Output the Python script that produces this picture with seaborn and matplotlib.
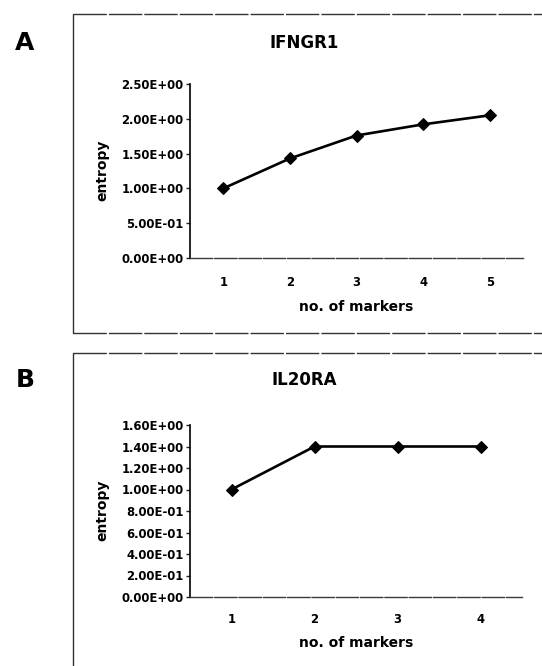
import matplotlib
matplotlib.use("Agg")
import matplotlib.pyplot as plt
from matplotlib.lines import Line2D
import seaborn as sns
import pandas as pd
import numpy as np

# ---- data ----
markers_a = [1, 2, 3, 4, 5]
entropy_a = [1.00, 1.43, 1.76, 1.92, 2.05]
yticks_a = [0.0, 0.5, 1.0, 1.5, 2.0, 2.5]
title_a = "IFNGR1"

markers_b = [1, 2, 3, 4]
entropy_b = [1.00, 1.40, 1.40, 1.40]
yticks_b = [0.0, 0.2, 0.4, 0.6, 0.8, 1.0, 1.2, 1.4, 1.6]
title_b = "IL20RA"

xlabel = "no. of markers"
ylabel = "entropy"

sns.set_style("white")
plt.rcParams["font.family"] = ["DejaVu Sans"]
plt.rcParams["font.weight"] = "bold"
plt.rcParams["text.color"] = "black"
plt.rcParams["axes.labelcolor"] = "black"
plt.rcParams["xtick.color"] = "black"
plt.rcParams["ytick.color"] = "black"

W, H = 542, 666
fig = plt.figure(figsize=(W / 100, H / 100), dpi=100)


def fx(px):
    return px / W


def fy(py):
    return 1 - py / H


def panel(rect_px, xs, ys, yticks, title, letter, title_y, xlab_y, ylab_x, tick_pad):
    l, t, r, b = rect_px
    ax = fig.add_axes([fx(l), fy(b), fx(r) - fx(l), fy(t) - fy(b)])
    df = pd.DataFrame({"markers": xs, "entropy": ys})
    sns.lineplot(data=df, x="markers", y="entropy", ax=ax, color="black",
                 linewidth=1.9, marker="D", markersize=6.5,
                 markeredgecolor="black", markerfacecolor="black")
    n = len(xs)
    ax.set_xlim(0.5, n + 0.5)
    ax.set_ylim(yticks[0], yticks[-1])
    ax.set_yticks(yticks)
    ax.set_yticklabels(["{:.2E}".format(v) for v in yticks],
                       fontsize=8.4, fontweight="bold")
    ax.set_xticks(xs)
    ax.set_xticklabels([str(v) for v in xs], fontsize=8.4, fontweight="bold")
    ax.set_xticks(np.arange(0.5, n + 1.0, 1.0), minor=True)
    ax.tick_params(axis="x", which="major", length=0, pad=tick_pad)
    ax.tick_params(axis="x", which="minor", length=3, width=1.0,
                   direction="out", color="#222222")
    ax.tick_params(axis="y", which="major", length=3, width=1.0,
                   direction="out", pad=1.5, left=True, color="#222222")
    for s in ["top", "right"]:
        ax.spines[s].set_visible(False)
    ax.spines["left"].set_color("black")
    ax.spines["left"].set_linewidth(1.2)
    ax.spines["bottom"].set_color("#3a3a3a")
    ax.spines["bottom"].set_linewidth(1.0)
    ax.spines["bottom"].set_linestyle((0, (16, 1.5)))
    ax.set_xlabel(xlabel, fontsize=10, fontweight="bold")
    ax.set_ylabel(ylabel, fontsize=10, fontweight="bold")
    ax.xaxis.set_label_coords(0.5, -(xlab_y - b) / (b - t))
    ax.xaxis.label.set_va("center")
    ax.yaxis.set_label_coords((ylab_x - l) / (r - l), 0.505)
    ax.yaxis.label.set_va("center")
    fig.text(fx(304), fy(title_y), title, ha="center", va="center",
             fontsize=12, fontweight="bold")
    fig.text(fx(25), fy(title_y), letter, ha="center", va="center",
             fontsize=18, fontweight="bold")
    return ax


panel((190, 84, 523, 258), markers_a, entropy_a, yticks_a, title_a, "A",
      43, 307, 102, 13)
panel((190, 425, 522, 597), markers_b, entropy_b, yticks_b, title_b, "B",
      380, 643, 102, 11.5)

# panel frames
frame_kw = dict(transform=fig.transFigure, color="#333333", linewidth=1.0)
dash = (0, (24, 1.5))
# A
fig.add_artist(Line2D([fx(73), fx(73)], [fy(14), fy(333)], **frame_kw))
fig.add_artist(Line2D([fx(73), fx(W)], [fy(14), fy(14)],
                      linestyle=dash, **frame_kw))
fig.add_artist(Line2D([fx(73), fx(W)], [fy(333), fy(333)],
                      linestyle=dash, **frame_kw))
# B
fig.add_artist(Line2D([fx(73), fx(73)], [fy(353), fy(H)], **frame_kw))
fig.add_artist(Line2D([fx(73), fx(W)], [fy(353), fy(353)],
                      linestyle=dash, **frame_kw))

fig.savefig("out.png", dpi=100)
